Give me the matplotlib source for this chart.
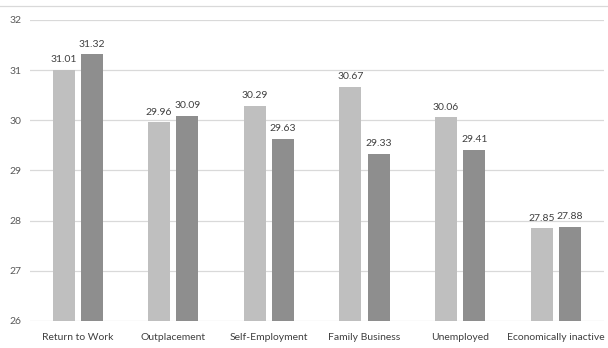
import matplotlib
matplotlib.use("Agg")
import matplotlib.pyplot as plt
import numpy as np

categories = ["Return to Work", "Outplacement", "Self-Employment", "Family Business", "Unemployed", "Economically inactive"]
series_a = [31.01, 29.96, 30.29, 30.67, 30.06, 27.85]
series_b = [31.32, 30.09, 29.63, 29.33, 29.41, 27.88]
yticks = [26, 27, 28, 29, 30, 31, 32]

plt.rcParams['font.family'] = ['Lato', 'DejaVu Sans']
fig = plt.figure(figsize=(6.08, 3.48), dpi=100)
ax = fig.add_axes([0.049, 0.0776, 0.944, 0.865])

x = np.arange(len(categories))
w = 0.23
gap = 0.065
c_a = "#BFBFBF"
c_b = "#8E8E8E"
ba = ax.bar(x - (w + gap) / 2, series_a, w, bottom=0, color=c_a, zorder=3)
bb = ax.bar(x + (w + gap) / 2, series_b, w, bottom=0, color=c_b, zorder=3)
for bars, vals in ((ba, series_a), (bb, series_b)):
    for r, v in zip(bars, vals):
        ax.annotate(f"{v:.2f}", (r.get_x() + r.get_width() / 2, v), xytext=(0, 4),
                    textcoords="offset points", ha="center", va="bottom",
                    fontsize=7.5, color="#404040")

ax.set_ylim(26, 32)
ax.set_xlim(-0.5, len(categories) - 0.5)
ax.set_yticks(yticks)
ax.set_xticks(x)
ax.set_xticklabels(categories, fontsize=7.5, color="#404040")
ax.tick_params(axis='y', labelsize=7.5, colors="#595959", length=0, pad=6)
ax.tick_params(axis='x', length=0, pad=9)
ax.grid(axis='y', color="#D9D9D9", linewidth=0.9, zorder=0)
for s in ax.spines.values():
    s.set_visible(False)

fig.add_artist(plt.Line2D([0.0, 1.0], [1 - 6 / 348, 1 - 6 / 348], color="#D9D9D9", linewidth=0.9))

fig.savefig("out.png", dpi=100)
